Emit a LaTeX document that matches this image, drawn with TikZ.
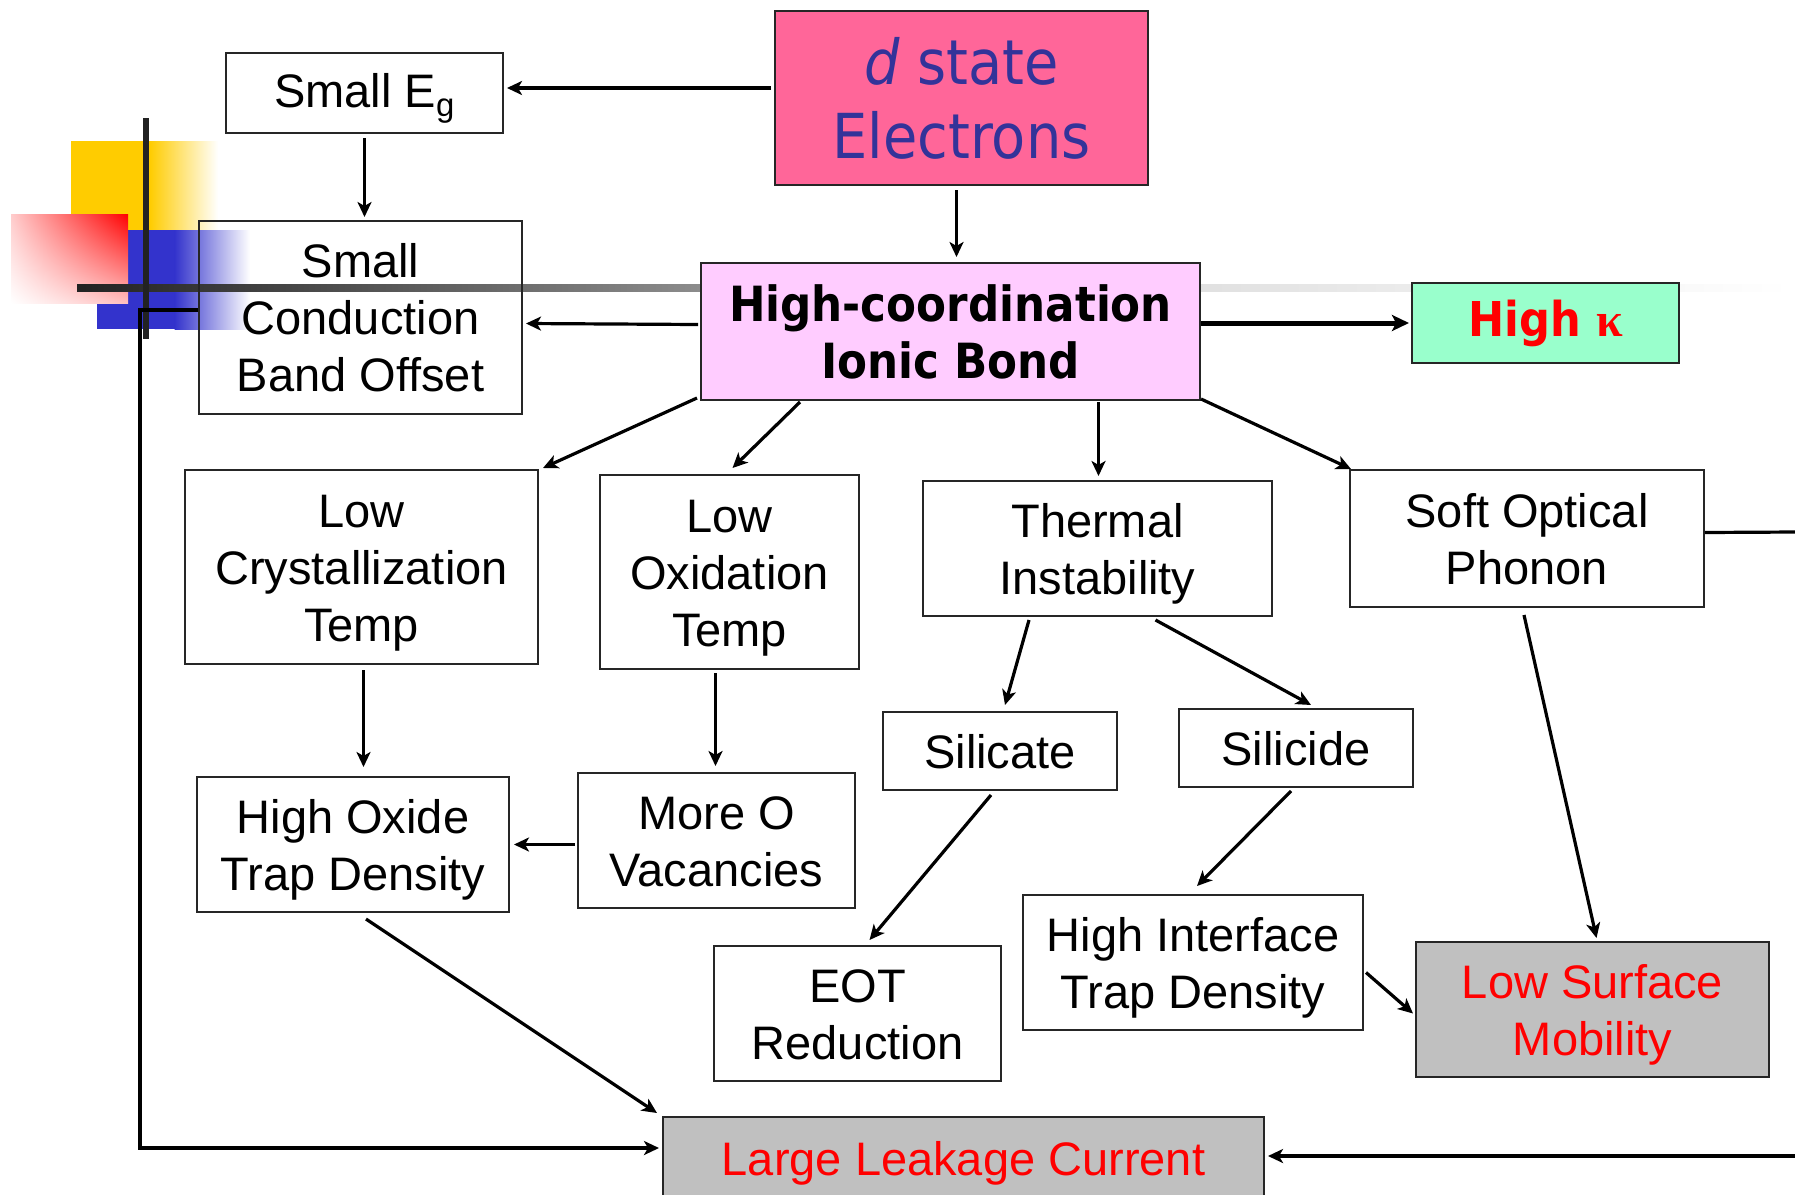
\documentclass[tikz,border=0pt]{standalone}
\usepackage{fontspec}
\setmainfont{Liberation Sans}
\newfontfamily\tahoma{DejaVu Sans}[FakeStretch=0.9]
\newfontfamily\kapfont{Liberation Serif}
\usetikzlibrary{arrows.meta,calc,shadings}
\newcommand\topstr{\rule{0pt}{45.6pt}}
\newcommand\botstr{\rule[-11.4pt]{0pt}{11.4pt}}
\definecolor{dpink}{HTML}{FF6699}
\definecolor{lpink}{HTML}{FFCCFF}
\definecolor{mint}{HTML}{99FFCC}
\definecolor{dblue}{HTML}{333399}
\definecolor{gbox}{HTML}{C0C0C0}
\definecolor{ylw}{HTML}{FFCC00}
\definecolor{bluedeco}{HTML}{3333CC}
\definecolor{dk}{HTML}{222222}
\tikzset{
  box/.style={draw=black!85, line width=2pt, align=center, inner sep=0pt,
    font=\fontsize{47}{57}\selectfont},
  graybox/.style={box, fill=gbox, text=red},
  arr/.style={line width=3.2pt, -{Stealth[length=15pt,width=14pt,inset=4pt]}},
  thickarr/.style={line width=5pt, -{Stealth[length=17pt,width=16pt,inset=4pt]}},
  plain/.style={line width=3.2pt},
}
\begin{document}
\begin{tikzpicture}[x=1pt,y=-1pt]
\useasboundingbox (0,0) rectangle (1795,1194);
% decoration
\fill[ylw] (71,141) rectangle (150,230);
\shade[left color=ylw, right color=white] (149.5,141) rectangle (218,230);
\fill[bluedeco] (97,230) rectangle (175,329);
\shade[left color=bluedeco, right color=white] (174.5,230) rectangle (250,329);
\shade[upper right=red, upper left=red!20, lower left=white, lower right=red!25] (11,214) rectangle (128,303);
\shade[left color=dk, right color=black!45] (77,284.5) rectangle (701,291.5);
\shade[left color=black!12, right color=white] (1200,284.5) rectangle (1790,291.5);
\fill[dk] (143,118) rectangle (149,339);

% nodes
\node[box, fill=dpink, text=dblue, minimum width=373pt, minimum height=174pt,
  font=\tahoma\fontsize{62}{74}\selectfont] (dse) at (961.5,98) {\textit{d} state\\Electrons};
\node[box, minimum width=277pt, minimum height=80pt] (seg) at (364.5,93) {\topstr Small E$_{\mathrm{g}}$\botstr};
\node[box, minimum width=323pt, minimum height=193pt] (scbo) at (360.5,317.5) {\topstr Small\\Conduction\\Band Offset\botstr};
\node[box, fill=lpink, minimum width=499pt, minimum height=137pt,
  font=\tahoma\bfseries\fontsize{48.5}{57}\selectfont] (hcib) at (950.5,331.5) {High-coordination\\Ionic Bond};
\node[box, fill=mint, text=red, minimum width=267pt, minimum height=80pt,
  font=\tahoma\bfseries\fontsize{48}{57}\selectfont] (hk) at (1545.5,323) {High {\kapfont\bfseries κ}};
\node[box, minimum width=353pt, minimum height=194pt] (lct) at (361.5,567) {\topstr Low\\Crystallization\\Temp\botstr};
\node[box, minimum width=259pt, minimum height=194pt] (lot) at (729.5,572) {\topstr Low\\Oxidation\\Temp\botstr};
\node[box, minimum width=349pt, minimum height=135pt] (ti) at (1097.5,548.5) {\topstr Thermal\\Instability\botstr};
\node[box, minimum width=354pt, minimum height=137pt] (sop) at (1527,538.5) {\topstr Soft Optical\\Phonon\botstr};
\node[box, minimum width=234pt, minimum height=78pt] (scate) at (1000,751) {\topstr Silicate\botstr};
\node[box, minimum width=234pt, minimum height=78pt] (scide) at (1296,748) {\topstr Silicide\botstr};
\node[box, minimum width=312pt, minimum height=135pt] (hotd) at (353,844.5) {\topstr High Oxide\\Trap Density\botstr};
\node[box, minimum width=277pt, minimum height=135pt] (mov) at (716.5,840.5) {\topstr More O\\Vacancies\botstr};
\node[box, minimum width=287pt, minimum height=135pt] (eot) at (857.5,1013.5) {\topstr EOT\\Reduction\botstr};
\node[box, minimum width=340pt, minimum height=135pt] (hitd) at (1193,962.5) {\topstr High Interface\\Trap Density\botstr};
\node[graybox, minimum width=353pt, minimum height=135pt] (lsm) at (1592.5,1009.5) {\topstr Low Surface\\Mobility\botstr};
\node[graybox, minimum width=601pt, minimum height=82pt] (llc) at (963.5,1158) {\topstr Large Leakage Current\botstr};

\coordinate (lft) at (140,310);
\coordinate (redgeA) at (1796,532);
\coordinate (redgeB) at (1796,1156);

% connectors
\draw[arr] ($(dse.west)+(-3,-10)$) -- ($(seg.east)+(3,-5)$);
\draw[arr] ($(seg.south)+(0,4)$) -- ($(seg.south |- scbo.north)+(0,-3)$);
\draw[arr] ($(dse.south)+(-5,4)$) -- ($(dse.south |- hcib.north)+(-5,-5)$);
\draw[arr] ($(hcib.west)+(-2,-7)$) -- ($(scbo.east)+(3,6)$);
\draw[thickarr] (hk.west -| hcib.east) -- ($(hk.west)+(-2,0)$);
\draw[arr] ($(hcib.south west)+(-3,-3)$) -- ($(lct.north east)+(4,-1)$);
\draw[arr] ($(hcib.south west)+(100,1)$) -- ($(lot.north)+(3,-6)$);
\draw[arr] ($(ti.north |- hcib.south)+(1,1)$) -- ($(ti.north)+(1,-4)$);
\draw[arr] ($(hcib.south east)+(0,-2)$) -- ($(sop.north west)+(2,0)$);
\draw[arr] ($(lct.south)+(2,5)$) -- ($(lct.south |- hotd.north)+(2,-9)$);
\draw[arr] ($(mov.north |- lot.south)+(-1,3)$) -- ($(mov.north)+(-1,-6)$);
\draw[arr] ($(mov.west)+(-2,4)$) -- ($(hotd.east)+(4,0)$);
\draw[arr] ($(ti.south west)+(107,3)$) -- ($(scate.north)+(5,-6)$);
\draw[arr] ($(ti.south)+(58,3)$) -- ($(scide.north)+(15,-3)$);
\draw[arr] ($(scate.south)+(-9,4)$) -- ($(eot.north)+(12,-5)$);
\draw[arr] ($(scide.south)+(-5,3)$) -- ($(hitd.north)+(4,-8)$);
\draw[arr] ($(sop.south)+(-3,7)$) -- ($(lsm.north)+(4,-3)$);
\draw[arr] ($(hitd.east)+(2,10)$) -- ($(lsm.west)+(-2,4)$);
\draw[arr] ($(hotd.south)+(13,6)$) -- ($(llc.north west)+(-5,-3)$);
\draw[plain, arr] ($(scbo.west)+(0,-7.5)$) -- (lft) |- ($(llc.west)+(-3,-10)$);
\draw[plain] ($(sop.east)+(0,-6)$) -- (redgeA);
\draw[plain, arr] (redgeB) -- ($(llc.east |- redgeB)+(3,0)$);
\end{tikzpicture}
\end{document}
